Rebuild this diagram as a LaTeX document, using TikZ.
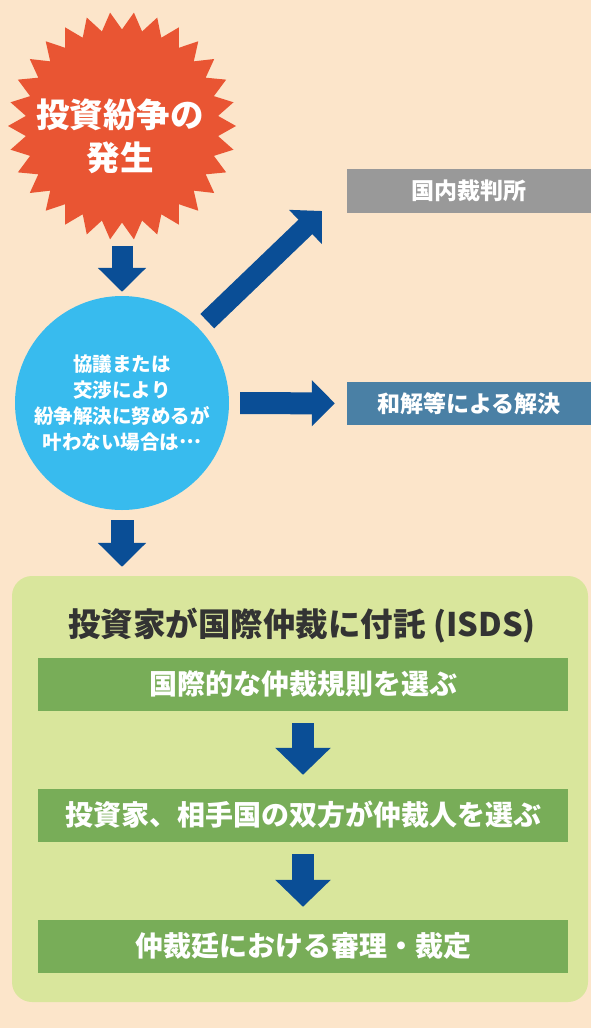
\documentclass[tikz,border=0pt]{standalone}
\usepackage{fontspec}
\setmainfont{Noto Sans CJK JP}
\usetikzlibrary{shapes.geometric,arrows.meta}
\definecolor{bgpeach}{HTML}{FCE5CA}
\definecolor{burstred}{HTML}{E95533}
\definecolor{sky}{HTML}{38BBEE}
\definecolor{navy}{HTML}{0A4E96}
\definecolor{boxgray}{HTML}{999999}
\definecolor{boxblue}{HTML}{4A80A5}
\definecolor{panelgreen}{HTML}{D9E69C}
\definecolor{bargreen}{HTML}{78AD58}
\definecolor{titlegray}{HTML}{333333}
\begin{document}
\begin{tikzpicture}[x=1pt,y=-1pt,
  fatarrow/.style n args={3}{draw=navy, line width=#1, -{Triangle[width=#2,length=#3]}},
  stepbar/.style={fill=bargreen, minimum width=530pt, minimum height=53pt, inner sep=0pt, text=white, font=\bfseries\fontsize{28}{30}\selectfont},
  sidebox/.style={minimum width=244pt, inner sep=0pt, text=white, font=\bfseries\fontsize{23}{25}\selectfont}]
\fill[bgpeach] (0,0) rectangle (591,1028);
\useasboundingbox (0,0) rectangle (591,1028);

\node[star, star points=30, star point ratio=1.18, shape border rotate=6, fill=burstred, minimum size=228pt, inner sep=0pt] (burst) at (122,126) {};
\node[text=white, align=center, inner sep=0pt, font=\bfseries\fontsize{33.5}{43}\selectfont] (burstlabel) at (120,136) {投資紛争の\\発生};

\node[circle, fill=sky, minimum size=214pt, inner sep=0pt, text=white, align=center, font=\bfseries\fontsize{19.5}{26}\selectfont] (disc) at (122,403) {協議または\\交渉により\\紛争解決に努めるが\\叶わない場合は\raisebox{0.3em}{…}};

\node[sidebox, fill=boxgray, minimum height=44pt] (court) at (469,191) {国内裁判所};
\node[sidebox, fill=boxblue, minimum height=43pt] (settle) at (469,403.5) {和解等による解決};

\node[fill=panelgreen, rounded corners=20pt, minimum width=576pt, minimum height=426pt, inner sep=0pt] (panel) at (300,789) {};
\node[text=titlegray, inner sep=0pt, font=\bfseries\fontsize{32.5}{34}\selectfont] (title) at (302,626) {投資家が国際仲裁に付託 (ISDS)};

\node[stepbar] (s1) at (303,684) {国際的な仲裁規則を選ぶ};
\node[stepbar] (s2) at (303,815) {投資家、相手国の双方が仲裁人を選ぶ};
\node[stepbar] (s3) at (303,946) {仲裁廷における審理・裁定};

\coordinate (d1) at (322,211);
\draw[fatarrow={21pt}{47pt}{24pt}, shorten <=23pt, shorten >=4pt] (burst) -- (disc);
\draw[fatarrow={20pt}{46pt}{23pt}, shorten <=11pt] (disc) -- (d1);
\draw[fatarrow={22pt}{45pt}{23pt}, shorten <=11pt, shorten >=12pt] (disc) -- (settle);
\draw[fatarrow={23pt}{47pt}{24pt}, shorten <=10pt, shorten >=9pt] (disc.south) -- (disc.south |- panel.north);
\draw[fatarrow={22pt}{54pt}{27pt}, shorten <=12.5pt, shorten >=13.5pt] (s1) -- (s2);
\draw[fatarrow={22pt}{54pt}{27pt}, shorten <=12.5pt, shorten >=12.5pt] (s2) -- (s3);
\end{tikzpicture}
\end{document}
